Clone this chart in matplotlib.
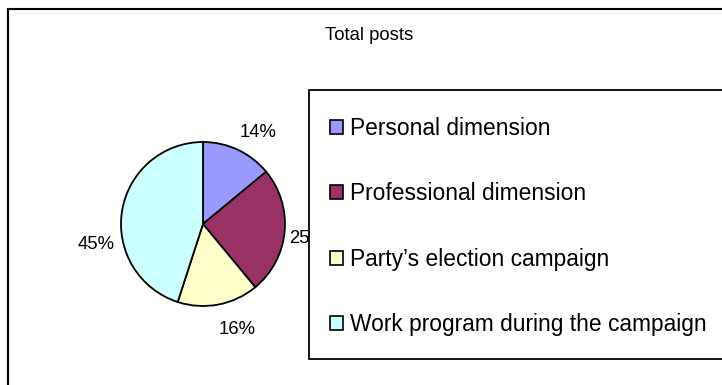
import matplotlib
matplotlib.use("Agg")
import matplotlib.pyplot as plt
from matplotlib.patches import Rectangle, Patch

plt.rcParams["font.family"] = ["Liberation Sans", "DejaVu Sans"]

# ── Data ────────────────────────────────────────────────────────────────────
categories = ["Personal dimension", "Professional dimension",
              "Party\u2019s election campaign", "Work program during the campaign"]
shares = [14, 25, 16, 45]
colors = ["#9999FF", "#993366", "#FFFFCC", "#CCFFFF"]
title = "Total posts"

# nudges (pixels, y down) for the best-fit style placement of the % labels
label_nudge = [(9, 6), (-3, 4), (14, -1), (0, 37)]

W, H = 722, 385
fig = plt.figure(figsize=(W / 100, H / 100), dpi=100)


def px(x, y):
    """Pixel position (from top-left) to figure fraction."""
    return x / W, 1 - y / H


# outer chart-area border (runs off the right and bottom edges)
x0, y0 = px(8, 9)
fig.patches.append(Rectangle((x0, -0.1), 1.2, y0 + 0.1, transform=fig.transFigure,
                             fill=False, ec="black", lw=1.5, zorder=0))

# ── Pie ─────────────────────────────────────────────────────────────────────
cx, cy, r = 203, 224, 82
left, bottom = px(cx - r, cy + r)
ax = fig.add_axes([left, bottom, 2 * r / W, 2 * r / H])
wedges, _, pct = ax.pie(shares, colors=colors, startangle=90, counterclock=False,
                        autopct="%d%%", pctdistance=1.32, radius=1,
                        wedgeprops=dict(edgecolor="black", linewidth=1.3),
                        textprops=dict(fontsize=13.3, color="black"))
ax.set_xlim(-1, 1)
ax.set_ylim(-1, 1)
ax.set_aspect("auto")
for t, (dx, dy) in zip(pct, label_nudge):
    x, y = t.get_position()
    t.set_position((x + dx / r, y - dy / r))
    t.set_zorder(1)

fig.text(*px(369, 36), title, ha="center", va="center", fontsize=13.3)

# ── Legend box (drawn over the pie labels, runs off the right edge) ────────
lx, ly = px(309, 90)
_, lb = px(309, 359)
frame = Rectangle((lx, lb), 1.2, ly - lb, transform=fig.transFigure,
                  fc="white", ec="black", lw=1.3, zorder=5)
fig.patches.append(frame)

handles = [Patch(facecolor=c, edgecolor="black", linewidth=1.2) for c in colors]
leg = fig.legend(handles, categories, loc="upper left",
                 bbox_to_anchor=px(330, 117), frameon=False,
                 fontsize=16.4, handlelength=0.55, handleheight=0.55,
                 handletextpad=0.32, labelspacing=1.86, borderpad=0,
                 borderaxespad=0)
leg.set_zorder(6)

fig.savefig("out.png", dpi=100)
